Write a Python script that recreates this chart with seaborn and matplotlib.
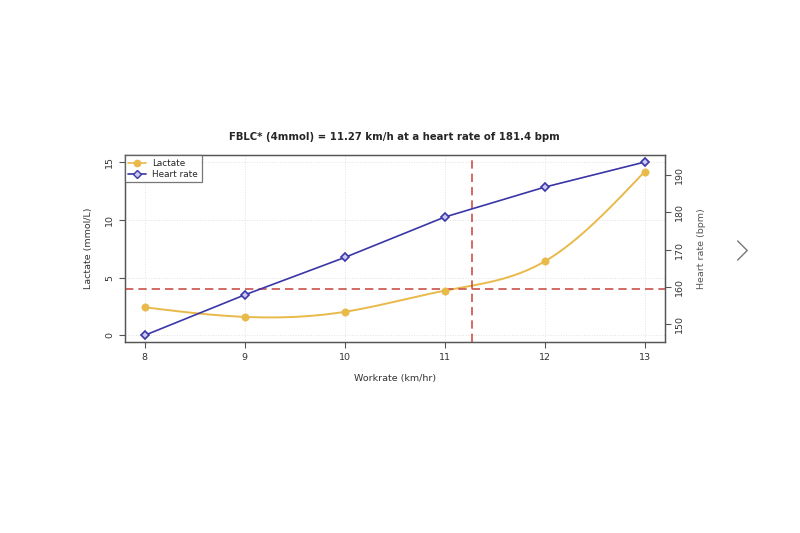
import matplotlib
matplotlib.use("Agg")
import matplotlib.pyplot as plt
from matplotlib.lines import Line2D
import numpy as np
import pandas as pd
import seaborn as sns

# values
workrate = [8, 9, 10, 11, 12, 13]
lactate = [2.42, 1.59, 2.03, 3.86, 6.40, 14.18]
heart_rate = [147.1, 157.9, 167.9, 178.7, 186.7, 193.4]
fblc_speed = 11.27
fblc_lactate = 4.0
lactate_ticks = [0, 5, 10, 15]
hr_ticks = [150, 160, 170, 180, 190]
title = "FBLC* (4mmol) = 11.27 km/h at a heart rate of 181.4 bpm"

df = pd.DataFrame({"workrate": workrate, "lactate": lactate, "hr": heart_rate})

lac_col = "#E9B949"
hr_col = "#3A36A6"
ref_col = "#C9504C"
frame_col = "#555555"


def natural_spline(x, y, n=200):
    # smooth line through the measured points (like R's spline())
    x = np.asarray(x, float)
    y = np.asarray(y, float)
    h = np.diff(x)
    k = len(x)
    A = np.zeros((k, k))
    b = np.zeros(k)
    A[0, 0] = A[-1, -1] = 1
    for i in range(1, k - 1):
        A[i, i - 1] = h[i - 1]
        A[i, i] = 2 * (h[i - 1] + h[i])
        A[i, i + 1] = h[i]
        b[i] = 6 * ((y[i + 1] - y[i]) / h[i] - (y[i] - y[i - 1]) / h[i - 1])
    M = np.linalg.solve(A, b)
    xs = np.linspace(x[0], x[-1], n)
    idx = np.clip(np.searchsorted(x, xs) - 1, 0, k - 2)
    t = (xs - x[idx]) / h[idx]
    ys = ((1 - t) * y[idx] + t * y[idx + 1]
          - h[idx] ** 2 * t * (1 - t) / 6 * ((2 - t) * M[idx] + (1 + t) * M[idx + 1]))
    return xs, ys


sns.set_style("white")
plt.rcParams["font.family"] = ["DejaVu Sans"]

fs = 6.8

fig = plt.figure(figsize=(8, 5.33), dpi=100)
ax = fig.add_axes([0.156, 0.358, 0.675, 0.351])

# grid like R's grid()
for v in workrate:
    ax.axvline(v, color="#e2e2e2", lw=0.7, ls=":", zorder=0)
for v in lactate_ticks:
    ax.axhline(v, color="#e2e2e2", lw=0.7, ls=":", zorder=0)

# lactate: smooth curve + points
sx, sy = natural_spline(workrate, lactate)
sns.lineplot(x=sx, y=sy, ax=ax, color=lac_col, lw=1.4, sort=False)
sns.scatterplot(data=df, x="workrate", y="lactate", ax=ax, color=lac_col,
                s=28, edgecolor=lac_col, zorder=4)

# reference lines
ax.axhline(fblc_lactate, color=ref_col, ls=(0, (5, 3)), lw=1.2, zorder=3)
ax.axvline(fblc_speed, color=ref_col, ls=(0, (5, 3)), lw=1.2, zorder=3)

ax.set_xlim(7.8, 13.2)
ax.set_ylim(-0.6, 15.6)
ax.set_xticks(workrate)
ax.set_yticks(lactate_ticks)
ax.set_xlabel("Workrate (km/hr)", fontsize=fs, color="#333333", labelpad=9)
ax.set_ylabel("Lactate (mmol/L)", fontsize=fs, color="#333333", labelpad=9)
ax.tick_params(axis="both", direction="out", length=4, width=0.8, color=frame_col,
               labelsize=fs, labelcolor="#333333", left=True, bottom=True)
for t in ax.get_yticklabels():
    t.set_rotation(90)
    t.set_va("center")

# heart rate on twin axis
ax2 = ax.twinx()
sns.lineplot(data=df, x="workrate", y="hr", ax=ax2, color=hr_col, lw=1.2,
             marker="D", markersize=4.5, markerfacecolor="#c9c9f2",
             markeredgecolor=hr_col, markeredgewidth=1.2)
ax2.set_ylim(145.25, 195.25)
ax2.set_yticks(hr_ticks)
ax2.set_ylabel("Heart rate (bpm)", fontsize=fs, color="#555555", labelpad=9)
ax2.tick_params(axis="y", direction="out", length=4, width=0.8, color=frame_col,
                labelsize=fs, labelcolor="#333333", right=True)
for t in ax2.get_yticklabels():
    t.set_rotation(90)
    t.set_va("center")

for a in (ax, ax2):
    for s in a.spines.values():
        s.set_color(frame_col)
        s.set_linewidth(0.9)

ax.set_title(title, fontsize=7.3, fontweight="bold", pad=11)

handles = [
    Line2D([], [], color=lac_col, lw=1.2, marker="o", markersize=4.5,
           markerfacecolor=lac_col, markeredgecolor=lac_col),
    Line2D([], [], color=hr_col, lw=1.2, marker="D", markersize=4,
           markerfacecolor="#c9c9f2", markeredgecolor=hr_col),
]
leg = ax2.legend(handles, ["Lactate", "Heart rate"], loc="upper left",
                 frameon=True, fancybox=False, fontsize=6.4, borderaxespad=0,
                 handlelength=2.0, handletextpad=0.7, borderpad=0.4,
                 labelspacing=0.25)
leg.get_frame().set_edgecolor(frame_col)
leg.get_frame().set_linewidth(0.9)

# carousel arrow from the screenshot
fig.lines.append(Line2D([0.922, 0.934, 0.922], [0.548, 0.530, 0.512],
                        transform=fig.transFigure, color="#777777", lw=1.0))

fig.savefig("out.png", dpi=100, facecolor="white")
